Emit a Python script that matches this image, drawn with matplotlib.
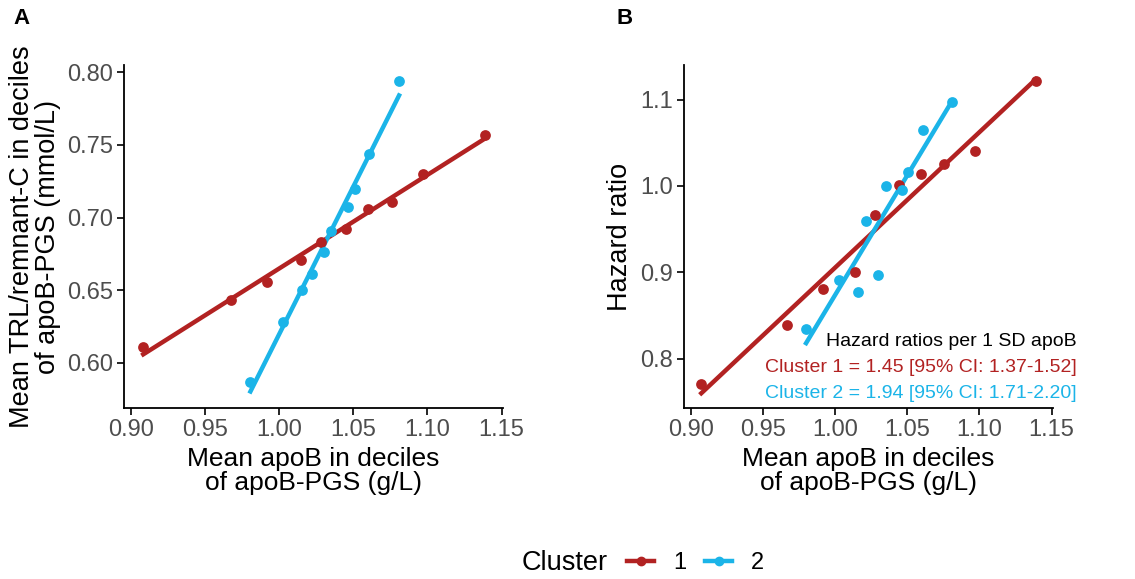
import numpy as np
import matplotlib.pyplot as plt
from matplotlib.lines import Line2D
from matplotlib.offsetbox import HPacker

plt.rcParams["font.family"] = ["Liberation Sans", "DejaVu Sans"]

red = "#B22222"
blue = "#1BB4E8"

# panel A: TRL/remnant-C vs apoB
a_x1 = [0.908, 0.967, 0.9915, 1.0145, 1.028, 1.045, 1.0596, 1.0757, 1.0969, 1.1388]
a_y1 = [0.611, 0.643, 0.656, 0.671, 0.683, 0.692, 0.706, 0.711, 0.730, 0.757]
a_x2 = [0.9804, 1.0027, 1.015, 1.0221, 1.0301, 1.035, 1.0462, 1.0507, 1.0607, 1.0808]
a_y2 = [0.587, 0.628, 0.650, 0.661, 0.676, 0.691, 0.707, 0.720, 0.744, 0.794]

# panel B: hazard ratio vs apoB
b_x1 = [0.907, 0.9666, 0.9911, 1.0137, 1.0274, 1.0443, 1.0597, 1.0753, 1.0969, 1.139]
b_y1 = [0.771, 0.839, 0.881, 0.900, 0.966, 1.001, 1.014, 1.025, 1.041, 1.122]
b_x2 = [0.9797, 1.0027, 1.0156, 1.0213, 1.0298, 1.0349, 1.046, 1.0501, 1.0609, 1.0808]
b_y2 = [0.835, 0.891, 0.877, 0.960, 0.897, 1.000, 0.995, 1.016, 1.065, 1.097]

xticks = [0.90, 0.95, 1.00, 1.05, 1.10, 1.15]

fig = plt.figure(figsize=(11.35, 5.79), dpi=100)
W, H = 1135, 579


def add_ax(l, t, r, b):
    return fig.add_axes([l / W, 1 - b / H, (r - l) / W, (b - t) / H])


def draw(ax, xs, ys, color):
    ax.scatter(xs, ys, s=60, color=color, zorder=3, linewidths=0)
    k, c = np.polyfit(xs, ys, 1)
    xx = np.array([min(xs), max(xs)])
    ax.plot(xx, k * xx + c, color=color, lw=3.2, zorder=2)


def style(ax):
    for s in ["top", "right"]:
        ax.spines[s].set_visible(False)
    for s in ["left", "bottom"]:
        ax.spines[s].set_linewidth(1.3)
    ax.tick_params(labelsize=17, labelcolor="#4D4D4D", length=5, width=1.2, pad=3)
    ax.set_xlim(0.895, 1.151)
    ax.set_xticks(xticks)
    ax.set_xticklabels([f"{t:.2f}" for t in xticks])
    ax.set_xlabel("Mean apoB in deciles\nof apoB-PGS (g/L)", fontsize=19, labelpad=4,
                  linespacing=1.0)


axA = add_ax(124, 65, 503, 408)
draw(axA, a_x1, a_y1, red)
draw(axA, a_x2, a_y2, blue)
style(axA)
axA.set_ylim(0.569, 0.805)
axA.set_yticks([0.60, 0.65, 0.70, 0.75, 0.80])
axA.set_yticklabels(["0.60", "0.65", "0.70", "0.75", "0.80"])
axA.set_ylabel("Mean TRL/remnant-C in deciles\nof apoB-PGS (mmol/L)", fontsize=19.5,
               linespacing=1.0, labelpad=4)

axB = add_ax(684, 65, 1053, 408)
draw(axB, b_x1, b_y1, red)
draw(axB, b_x2, b_y2, blue)
style(axB)
axB.set_ylim(0.743, 1.14)
axB.set_yticks([0.8, 0.9, 1.0, 1.1])
axB.set_yticklabels(["0.8", "0.9", "1.0", "1.1"])
axB.set_ylabel("Hazard ratio", fontsize=19.5, labelpad=5)

fig.text(1077 / W, 1 - 341 / H, "Hazard ratios per 1 SD apoB", ha="right", va="center",
         fontsize=14, color="black")
fig.text(1077 / W, 1 - 367 / H, "Cluster 1 = 1.45 [95% CI: 1.37-1.52]", ha="right",
         va="center", fontsize=14, color=red)
fig.text(1077 / W, 1 - 393 / H, "Cluster 2 = 1.94 [95% CI: 1.71-2.20]", ha="right",
         va="center", fontsize=14, color=blue)

fig.text(13 / W, 1 - 19 / H, "A", fontsize=16, fontweight="bold", va="center")
fig.text(617 / W, 1 - 19 / H, "B", fontsize=16, fontweight="bold", va="center")

handles = [
    Line2D([], [], color=red, lw=3.2, marker="o", markersize=6),
    Line2D([], [], color=blue, lw=3.2, marker="o", markersize=6),
]
leg = fig.legend(handles, ["1", "2"], title="Cluster", loc="center", ncol=2,
                 bbox_to_anchor=(643 / W, 1 - 563 / H), frameon=False, fontsize=17,
                 title_fontsize=19.5, handlelength=1.15, columnspacing=0.8,
                 handletextpad=0.8)
# put the title to the left of the entries, as in ggplot
box = leg._legend_box
box.__class__ = HPacker
box.sep = 14
box.align = "center"

fig.savefig("out.png", dpi=100)
